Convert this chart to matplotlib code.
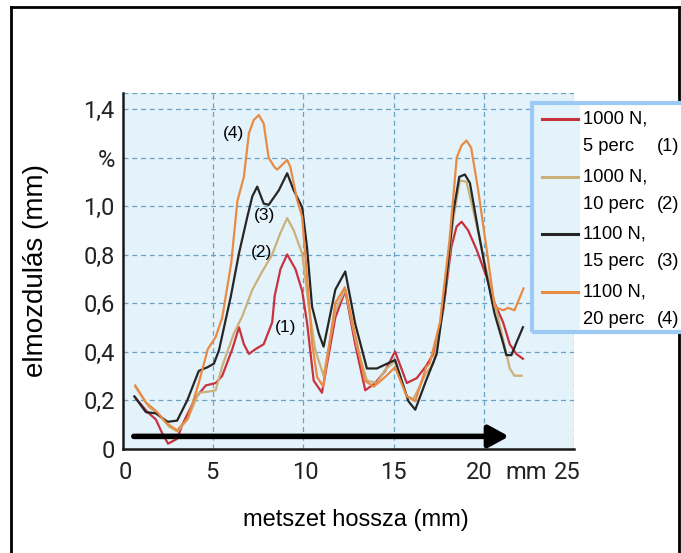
import matplotlib
matplotlib.use('Agg')
import matplotlib.pyplot as plt
from matplotlib.patches import Rectangle
from matplotlib.lines import Line2D

# 1000 N, 5 perc (1)
x1 = [0.68, 1.36, 1.82, 2.19, 2.5, 3.0, 3.3, 4.03, 4.59, 5.14, 5.5, 6.06, 6.43, 6.7, 6.98, 7.35,
      7.8, 8.27, 8.41, 8.73, 9.1, 9.56, 9.93, 10.2, 10.57, 11.03, 11.77, 12.32, 12.87, 13.43,
      13.98, 14.53, 15.08, 15.73, 16.28, 16.8, 17.2, 17.75, 18.2, 18.49, 18.77, 19.13, 19.6,
      20.14, 20.6, 21.07, 21.44, 21.8, 22.17]
y1 = [0.21, 0.15, 0.12, 0.06, 0.02, 0.04, 0.10, 0.21, 0.26, 0.27, 0.30, 0.41, 0.50, 0.43, 0.39,
      0.41, 0.43, 0.52, 0.63, 0.74, 0.80, 0.74, 0.65, 0.52, 0.28, 0.23, 0.54, 0.65, 0.43, 0.24,
      0.27, 0.32, 0.40, 0.27, 0.29, 0.34, 0.39, 0.57, 0.83, 0.915, 0.935, 0.90, 0.82, 0.71,
      0.60, 0.52, 0.43, 0.39, 0.37]

# 1000 N, 10 perc (2)
x2 = [0.68, 1.45, 2.0, 2.56, 3.02, 3.57, 4.2, 4.77, 5.14, 5.5, 6.15, 6.61, 7.17, 7.72, 8.27,
      8.73, 9.1, 9.46, 9.93, 10.3, 10.66, 11.12, 11.77, 12.32, 12.97, 13.52, 14.07, 14.53,
      15.08, 15.73, 16.1, 16.8, 17.2, 17.75, 18.3, 18.67, 19.04, 19.5, 20.14, 20.7, 21.16,
      21.44, 21.7, 22.1]
y2 = [0.255, 0.17, 0.14, 0.09, 0.07, 0.12, 0.23, 0.235, 0.24, 0.34, 0.475, 0.545, 0.655, 0.73,
      0.80, 0.89, 0.95, 0.90, 0.805, 0.585, 0.405, 0.30, 0.57, 0.655, 0.42, 0.28, 0.27, 0.325,
      0.36, 0.215, 0.205, 0.31, 0.35, 0.57, 0.94, 1.105, 1.10, 0.955, 0.735, 0.57, 0.42,
      0.33, 0.30, 0.30]

# 1100 N, 15 perc (3)
x3 = [0.63, 1.27, 1.82, 2.47, 3.0, 3.57, 4.2, 4.68, 5.04, 5.32, 5.97, 6.43, 6.89, 7.17, 7.44,
      7.8, 8.08, 8.64, 9.1, 9.46, 9.93, 10.2, 10.48, 10.85, 11.12, 11.77, 12.32, 12.87, 13.52,
      14.07, 15.08, 15.82, 16.2, 16.8, 17.39, 17.85, 18.3, 18.64, 18.95, 19.23, 19.69, 20.14,
      20.6, 21.07, 21.25, 21.53, 21.8, 22.17]
y3 = [0.215, 0.15, 0.145, 0.11, 0.115, 0.20, 0.32, 0.335, 0.35, 0.405, 0.625, 0.805, 0.955,
      1.04, 1.08, 1.01, 1.005, 1.065, 1.135, 1.065, 0.995, 0.83, 0.585, 0.475, 0.42, 0.655,
      0.73, 0.515, 0.33, 0.33, 0.365, 0.195, 0.16, 0.28, 0.39, 0.64, 0.97, 1.12, 1.13, 1.095,
      0.90, 0.72, 0.555, 0.435, 0.385, 0.385, 0.435, 0.50]

# 1100 N, 20 perc (4)
x4 = [0.68, 1.27, 1.9, 2.4, 3.0, 3.6, 4.2, 4.7, 5.14, 5.5, 6.0, 6.34, 6.7, 6.98, 7.25, 7.53,
      7.8, 8.07, 8.4, 8.55, 9.1, 9.28, 9.65, 9.93, 10.2, 10.48, 10.76, 11.1, 11.77, 12.3,
      12.97, 13.4, 13.9, 14.53, 15.08, 15.73, 16.2, 16.8, 17.0, 17.57, 18.1, 18.5, 18.77,
      19.04, 19.3, 19.69, 20.14, 20.6, 21.07, 21.35, 21.7, 22.2]
y4 = [0.26, 0.19, 0.15, 0.105, 0.075, 0.125, 0.27, 0.41, 0.46, 0.54, 0.765, 1.02, 1.12, 1.30,
      1.355, 1.375, 1.34, 1.20, 1.16, 1.15, 1.19, 1.16, 1.025, 0.955, 0.71, 0.435, 0.295,
      0.255, 0.60, 0.665, 0.435, 0.28, 0.255, 0.295, 0.335, 0.215, 0.195, 0.335, 0.35, 0.52,
      0.86, 1.20, 1.25, 1.27, 1.24, 1.065, 0.83, 0.585, 0.57, 0.58, 0.57, 0.66]

series_x = [x1, x2, x3, x4]
series_y = [y1, y2, y3, y4]
colors = ['#c8323f', '#cbb07a', '#262626', '#e98a45']
leg_top = ['1000 N,', '1000 N,', '1100 N,', '1100 N,']
leg_bottom = ['5 perc', '10 perc', '15 perc', '20 perc']
tags = ['(1)', '(2)', '(3)', '(4)']
tag_pos = [(9.0, 0.5), (7.7, 0.81), (7.85, 0.96), (6.1, 1.30)]

y_ticks = [0, 0.2, 0.4, 0.6, 0.8, 1.0, 1.2, 1.4]
y_labels = ['0', '0,2', '0,4', '0,6', '0,8', '1,0', '%', '1,4']
x_label_pos = [0.15, 4.9, 10.1, 15.0, 19.75, 22.35, 24.65]
x_labels = ['0', '5', '10', '15', '20', 'mm', '25']
grid_x = [5, 10, 15, 20, 25]

W, H = 681, 553
tick_font = ['Roboto', 'DejaVu Sans']
plt.rcParams['font.family'] = ['Liberation Sans', 'DejaVu Sans']
plt.rcParams['hatch.linewidth'] = 1.3


def fx(px):
    return px / W


def fy(py):
    return 1 - py / H


fig = plt.figure(figsize=(6.81, 5.53), dpi=100)
ax = fig.add_axes([fx(123), fy(448.5), (574 - 123) / W, (448.5 - 93) / H])
ax.set_xlim(0, 25)
ax.set_ylim(0, 1.466)

# hatched light blue background
bg = '#d2eaf6'
hatch_col = '#e6f4fb'
ax.set_facecolor(bg)
ax.add_patch(Rectangle((0, 0), 1, 1, transform=ax.transAxes, facecolor='none',
                       edgecolor=hatch_col, hatch='\\' * 12, lw=0, zorder=0))

for g in grid_x:
    ax.axvline(g, color='#6aa2c4', lw=0.9, ls=(0, (4, 3)), zorder=1)
for g in y_ticks[1:] + [1.466]:
    ax.axhline(g, color='#6aa2c4', lw=0.9, ls=(0, (4, 3)), zorder=1)

for xs, ys, c in zip(series_x, series_y, colors):
    ax.plot(xs, ys, color=c, lw=1.6, zorder=3)

for t, (tx, ty) in zip(tags, tag_pos):
    ax.text(tx, ty, t, fontsize=12.5, ha='center', va='center', zorder=4)

ax.annotate('', xy=(21.4, 0.05), xytext=(0.6, 0.05),
            arrowprops=dict(arrowstyle='-|>,head_length=0.55,head_width=0.3', lw=4,
                            color='black', mutation_scale=22, shrinkA=0, shrinkB=0),
            zorder=5)

for s in ['top', 'right']:
    ax.spines[s].set_visible(False)
for s in ['left', 'bottom']:
    ax.spines[s].set_linewidth(1.8)
    ax.spines[s].set_color('#1a1a1a')

ax.set_yticks(y_ticks)
ax.set_yticklabels(y_labels, family=tick_font, fontsize=17, color='#222222')
ax.set_xticks(x_label_pos)
ax.set_xticklabels(x_labels, family=tick_font, fontsize=17, color='#222222')
ax.tick_params(axis='y', length=0, pad=6)
ax.tick_params(axis='x', length=0, pad=9)

fig.text(fx(356), fy(520), 'metszet hossza (mm)', fontsize=17, ha='center', va='center')
fig.text(fx(36), fy(270), 'elmozdulás (mm)', fontsize=20, rotation=90,
         ha='center', va='center')

# legend box
fig.patches.append(Rectangle((fx(532), fy(332)), fx(48), (332 - 103) / H,
                             transform=fig.transFigure, facecolor=bg,
                             edgecolor=hatch_col, hatch='\\' * 12, lw=0, zorder=6))
fig.patches.append(Rectangle((fx(580), fy(332)), fx(130), (332 - 103) / H,
                             transform=fig.transFigure, facecolor='white',
                             edgecolor='none', zorder=6))
fig.patches.append(Rectangle((fx(532), fy(332)), fx(170), (332 - 103) / H,
                             transform=fig.transFigure, facecolor='none',
                             edgecolor='#9ccaf4', lw=3, zorder=7))
leg_y = [119, 177, 234, 292]
for i in range(4):
    ly = leg_y[i]
    fig.lines.append(Line2D([fx(542), fx(578)], [fy(ly), fy(ly)], color=colors[i], lw=2.2,
                            transform=fig.transFigure, zorder=8))
    fig.text(fx(583), fy(ly), leg_top[i], fontsize=13.2, va='center', zorder=8)
    fig.text(fx(583), fy(ly + 27.5), leg_bottom[i], fontsize=13.2, va='center', zorder=8)
    fig.text(fx(657), fy(ly + 27.5), tags[i], fontsize=13.2, va='center', zorder=8)

# outer frame
for xs, ys in [([11, 11], [553, 7]), ([11, 679], [7, 7]), ([679, 679], [7, 553])]:
    fig.lines.append(Line2D([fx(v) for v in xs], [fy(v) for v in ys], color='black', lw=2,
                            transform=fig.transFigure))

fig.savefig('out.png', dpi=100)
